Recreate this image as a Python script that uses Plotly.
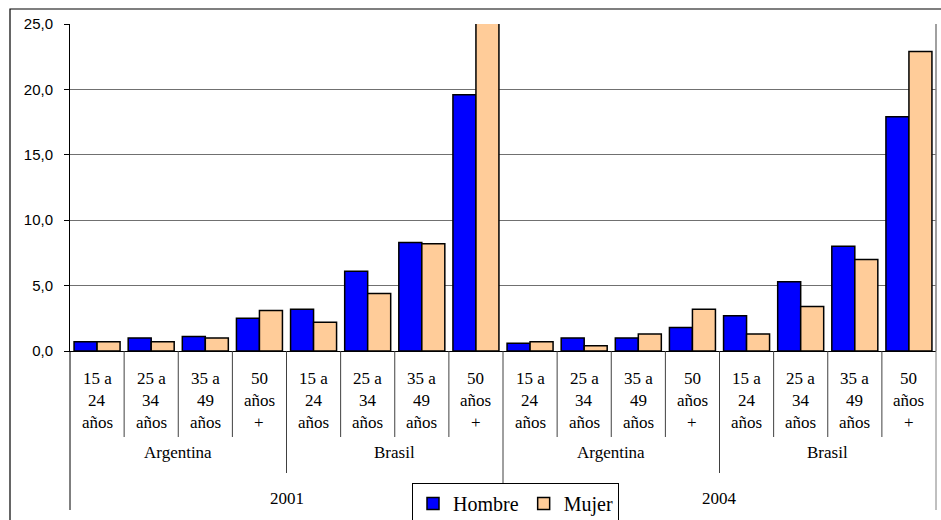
import plotly.graph_objects as go

# ---- data ----
age_labels = [["15 a", "24", "años"], ["25 a", "34", "años"],
              ["35 a", "49", "años"], ["50", "años", "+"]]
countries = ["Argentina", "Brasil"]
years = ["2001", "2004"]

hombre = [0.7, 1.0, 1.1, 2.5, 3.2, 6.1, 8.3, 19.6,
          0.6, 1.0, 1.0, 1.8, 2.7, 5.3, 8.0, 17.9]
mujer = [0.7, 0.7, 1.0, 3.1, 2.2, 4.4, 8.2, 25.1,
         0.7, 0.4, 1.3, 3.2, 1.3, 3.4, 7.0, 22.9]

n = len(hombre)
xs = list(range(n))
XMIN, XMAX = -0.5, n - 0.5

W, H = 941, 520
ML, MT = 70, 24
MR = W - 936
MB = H - 351
PW = W - ML - MR
PH = H - MT - MB


def py(y):  # pixel y -> paper y
    return (351 - y) / PH


def pxp(x):  # pixel x -> paper x
    return (x - 70) / PW


def to_paper(x):
    return (x - XMIN) / (XMAX - XMIN)


fig = go.Figure()
fig.add_trace(go.Bar(x=xs, y=hombre, name="Hombre",
                     marker=dict(color="#0000FF", line=dict(color="black", width=1.5))))
fig.add_trace(go.Bar(x=xs, y=mujer, name="Mujer",
                     marker=dict(color="#FFCC99", line=dict(color="black", width=1.5))))

shapes = []
annotations = []
serif = "Liberation Serif"
lab_font = dict(family=serif, size=17, color="black")

n_age = len(age_labels)
n_cty = len(countries)
row_y = [378, 400, 422]
for i in range(n):
    lines = age_labels[i % n_age]
    for r, t in enumerate(lines):
        annotations.append(dict(x=i, y=py(row_y[r]), xref="x", yref="paper",
                                text=t, showarrow=False, yanchor="middle", font=lab_font))
for c in range(n // n_age):
    center = c * n_age + (n_age - 1) / 2
    annotations.append(dict(x=center, y=py(452), xref="x", yref="paper",
                            text=countries[c % n_cty], showarrow=False, yanchor="middle",
                            font=lab_font))
per_year = n_age * n_cty
for k in range(n // per_year):
    center = k * per_year + (per_year - 1) / 2
    annotations.append(dict(x=center, y=py(498), xref="x", yref="paper",
                            text=years[k], showarrow=False, yanchor="middle",
                            font=lab_font))

for b in range(n + 1):
    xb = to_paper(b - 0.5)
    if b == 0 or b == n:
        y_end = 510
        col = "black" if b == 0 else "#808080"
    elif b % per_year == 0:
        y_end = 510
        col = "#404040"
    elif b % n_age == 0:
        y_end = 473
        col = "#404040"
    else:
        y_end = 437
        col = "#404040"
    shapes.append(dict(type="line", xref="paper", yref="paper",
                       x0=xb, x1=xb, y0=0, y1=py(y_end),
                       line=dict(color=col, width=1)))

shapes.append(dict(type="line", xref="paper", yref="paper", x0=1, x1=1, y0=0, y1=1,
                   line=dict(color="#808080", width=1.5)))
shapes.append(dict(type="rect", xref="paper", yref="paper",
                   x0=pxp(10), x1=pxp(960), y0=py(560), y1=py(9),
                   line=dict(color="black", width=1.2), fillcolor="rgba(0,0,0,0)"))

fig.update_layout(
    width=W, height=H,
    margin=dict(l=ML, r=MR, t=MT, b=MB, autoexpand=False),
    paper_bgcolor="white", plot_bgcolor="white",
    barmode="group", bargap=0.15, bargroupgap=0,
    separators=",.",
    showlegend=True,
    legend=dict(orientation="h", x=pxp(412), y=py(483),
                xanchor="left", yanchor="top",
                bordercolor="black", borderwidth=1, bgcolor="white",
                font=dict(family=serif, size=20, color="black"),
                itemwidth=30),
    shapes=shapes,
    annotations=annotations,
    xaxis=dict(range=[XMIN, XMAX], showticklabels=False, ticks="",
               showgrid=False, zeroline=False, showline=True,
               linecolor="black", linewidth=1, fixedrange=True),
    yaxis=dict(range=[0, 25], dtick=5, tickformat=".1f",
               showgrid=True, gridcolor="#707070", gridwidth=1,
               zeroline=False, showline=True, linecolor="black", linewidth=1,
               ticks="outside", ticklen=5, tickcolor="black",
               ticklabelstandoff=8,
               tickfont=dict(family="Liberation Sans", size=15, color="black")),
)

fig.write_html("out.html", config={"displayModeBar": False},
               post_script="document.body.style.margin='0';document.body.style.overflow='hidden';")
